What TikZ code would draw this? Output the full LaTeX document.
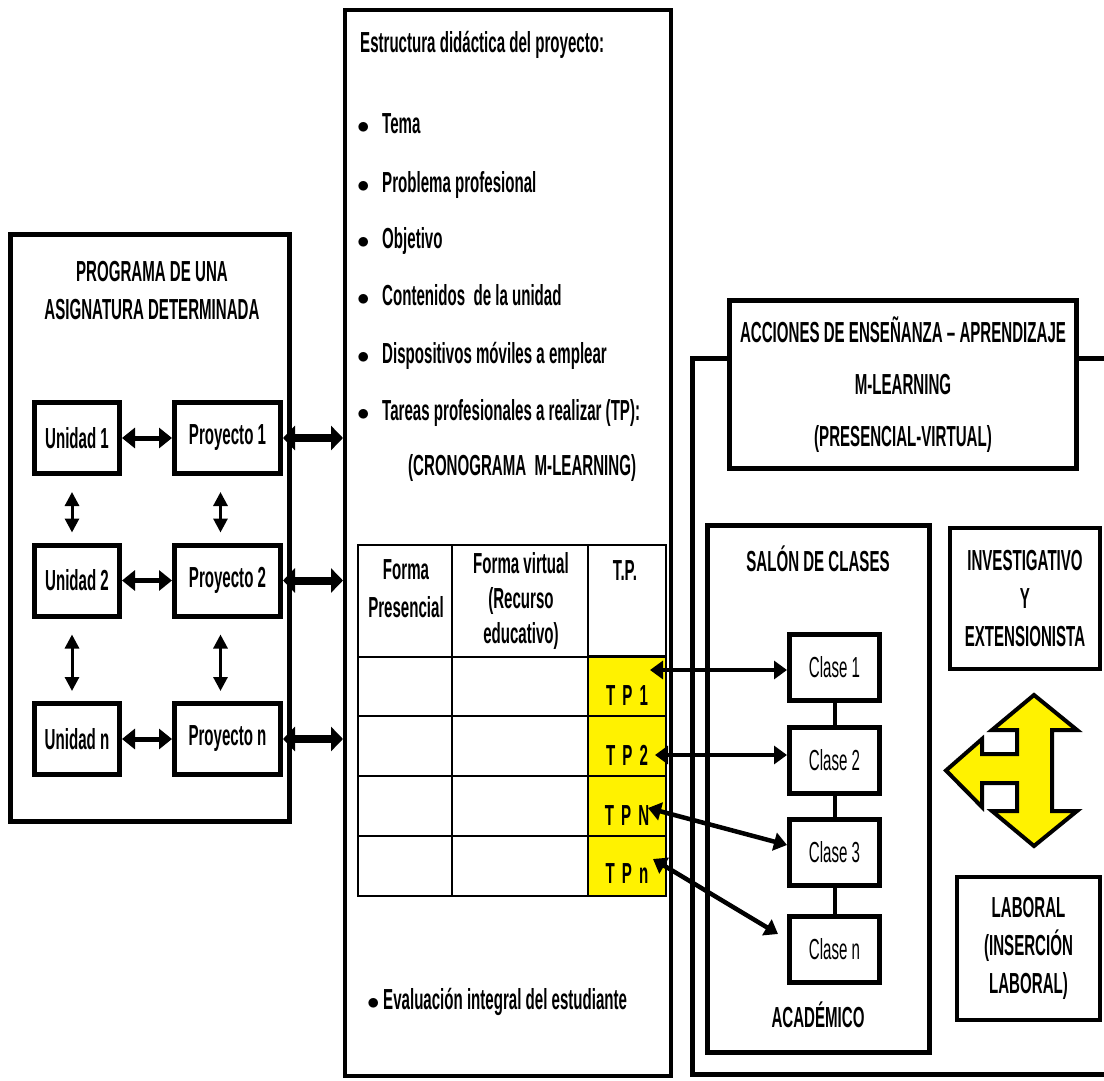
\documentclass[tikz,border=0pt]{standalone}
\usepackage{fontspec}
\setmainfont{Liberation Sans}[FakeStretch=0.52]
\usetikzlibrary{arrows.meta}
\newcommand\boldtxt{\fontsize{29}{38}\selectfont\bfseries}
\newcommand\plaintxt{\fontsize{29}{38}\selectfont}

\begin{document}
\begin{tikzpicture}
[x=1pt, y=-1pt,
frame/.style={draw, line width=4pt, fill=white, inner sep=0pt},
box/.style={draw, line width=5pt, fill=white, inner sep=0pt, align=center, font=\boldtxt},
unit/.style={box, minimum width=85pt, minimum height=71pt},
project/.style={box, minimum width=106pt, minimum height=71pt},
clase/.style={box, minimum width=90pt, minimum height=66pt, font=\plaintxt},
caption/.style={inner sep=0pt, align=center, font=\boldtxt},
tp cell/.style={draw, line width=2.5pt, fill=yellow, minimum width=78pt, minimum height=60pt, inner sep=0pt},
tp text/.style={caption, anchor=base, font=\boldtxt\addfontfeatures{LetterSpace=10}},
table line/.style={line width=2.5pt},
link/.style={line width=5pt, <->, >={Triangle[length=13pt,width=20pt]}},
main link/.style={line width=8pt, <->, >={Triangle[length=12pt,width=24pt]}},
small link/.style={line width=3pt, <->, >={Triangle[length=14pt,width=14pt]}, shorten <=16pt, shorten >=10pt},
task link/.style={line width=4.5pt, <->, >={Triangle[length=13pt,width=18pt]}}]
\useasboundingbox (0,0) rectangle (1104,1081);

% program of the subject
\node[frame, line width=5pt, minimum width=279pt, minimum height=587pt] (prog) at (150,528) {};
\node[caption] (prog title) at (152,290.5) {PROGRAMA DE UNA\\ASIGNATURA DETERMINADA};
\node[unit] (u1) at (77,438) {Unidad 1};
\node[unit] (u2) at (77,580.5) {Unidad 2};
\node[unit] (u3) at (77,739) {Unidad n};
\node[project] (p1) at (227.5,438) {Proyecto 1};
\node[project] (p2) at (227.5,580.5) {Proyecto 2};
\node[project] (p3) at (227.5,739) {Proyecto n};
\draw[link] (u1) -- (p1);
\draw[link] (u2) -- (p2);
\draw[link] (u3) -- (p3);
\draw[small link] ([xshift=-5pt]u1.south) -- ([xshift=-5pt]u2.north);
\draw[small link] ([xshift=-5pt]u2.south) -- ([xshift=-5pt]u3.north);
\draw[small link] ([xshift=-7pt]p1.south) -- ([xshift=-7pt]p2.north);
\draw[small link] ([xshift=-7pt]p2.south) -- ([xshift=-7pt]p3.north);

% project structure
\node[frame, minimum width=326pt, minimum height=1066pt] (mid) at (508,543) {};
\draw[main link] (p1.east) -- (p1.east -| mid.west);
\draw[main link] (p2.east) -- (p2.east -| mid.west);
\draw[main link] (p3.east) -- (p3.east -| mid.west);
\node[caption, anchor=base west] (estructura) at (360,53) {Estructura didáctica del proyecto:};
\node[caption, anchor=base west] (tema) at (357,133) {$\bullet$\hspace{12.6pt}Tema};
\node[caption, anchor=base west] (problema) at (357,192) {$\bullet$\hspace{12.6pt}Problema profesional};
\node[caption, anchor=base west] (objetivo) at (357,248) {$\bullet$\hspace{12.6pt}Objetivo};
\node[caption, anchor=base west] (contenidos) at (357,305) {$\bullet$\hspace{12.6pt}Contenidos\ \ de la unidad};
\node[caption, anchor=base west] (dispositivos) at (357,363) {$\bullet$\hspace{12.6pt}Dispositivos móviles a emplear};
\node[caption, anchor=base west] (tareas) at (357,420) {$\bullet$\hspace{12.6pt}Tareas profesionales a realizar (TP):};
\node[caption, anchor=base west] (cronograma) at (408,475) {(CRONOGRAMA\ \ M-LEARNING)};

% schedule table
\node[tp cell] (tp1) at (627,686.5) {};
\node[tp cell] (tp2) at (627,746) {};
\node[tp cell] (tp3) at (627,806) {};
\node[tp cell] (tp4) at (627,866) {};
\draw[table line] (358,545) rectangle (666,896);
\draw[table line] (452,545) -- (452,896);
\draw[table line] (588,545) -- (588,896);
\draw[table line] (358,657) -- (666,657);
\draw[table line] (358,716) -- (666,716);
\draw[table line] (358,776) -- (666,776);
\draw[table line] (358,836) -- (666,836);
\node[caption] (presencial) at (406,589) {Forma\\Presencial};
\node[caption, font=\fontsize{29}{35}\selectfont\bfseries] (virtual) at (521,601) {Forma virtual\\(Recurso\\educativo)};
\node[caption, anchor=base] (tp head) at (625,580) {T.P.};
\node[tp text] (tp1 text) at (627,705) {T P 1};
\node[tp text] (tp2 text) at (627,765) {T P 2};
\node[tp text] (tp3 text) at (627,825) {T P N};
\node[tp text] (tp4 text) at (627,883) {T P n};
\node[caption, anchor=base west] (evaluacion) at (367,1009) {$\bullet$\hspace{3.6pt}Evaluación integral del estudiante};

% teaching actions
\node[frame, line width=5pt, minimum width=438pt, minimum height=716pt] (area) at (911,716) {};
\node[box, minimum width=347pt, minimum height=168pt] (acciones) at (903,384.5) {ACCIONES DE ENSEÑANZA – APRENDIZAJE\\[14pt]M-LEARNING\\[14pt](PRESENCIAL-VIRTUAL)};
\node[frame, line width=4.5pt, minimum width=222pt, minimum height=527pt] (salon) at (818.5,789) {};
\node[caption, anchor=base] (salon title) at (818,571) {SALÓN DE CLASES};
\node[caption, anchor=base] (academico) at (818,1027) {ACADÉMICO};
\node[clase] (c1) at (834.5,667.5) {Clase 1};
\node[clase] (c2) at (834.5,760.5) {Clase 2};
\node[clase] (c3) at (834.5,852) {Clase 3};
\node[clase] (c4) at (834.5,949) {Clase n};
\draw[line width=4pt] (c1) -- (c2);
\draw[line width=4pt] (c2) -- (c3);
\draw[line width=4pt] (c3) -- (c4);
\node[box, line width=4pt, minimum width=150pt, minimum height=141pt] (invest) at (1025,598.5) {INVESTIGATIVO\\Y\\EXTENSIONISTA};
\node[box, line width=4pt, minimum width=143pt, minimum height=143pt] (laboral) at (1028.5,948.5) {LABORAL\\(INSERCIÓN\\LABORAL)};
\draw[fill=yellow, line width=4pt] (1034,695) -- (1077,730) -- (1052,730) -- (1052,811) -- (1077,811) -- (1034,846) -- (992,811) -- (1017,811) -- (1017,783) -- (982,783) -- (982,807) -- (946,770.5) -- (982,739) -- (982,754) -- (1017,754) -- (1017,730) -- (992,730) -- cycle;

% tasks to classes
\coordinate (t1) at (650,670);
\coordinate (t2) at (655,755);
\coordinate (t3) at (648,808);
\coordinate (t4) at (653,859);
\draw[task link] (t1) -- (t1 -| c1.west);
\draw[task link] (t2) -- (t2 -| c2.west);
\draw[task link] (t3) -- ([yshift=7pt]c3.west);
\draw[task link] (t4) -- ([xshift=-9pt,yshift=15pt]c4.west);
\end{tikzpicture}
\end{document}
